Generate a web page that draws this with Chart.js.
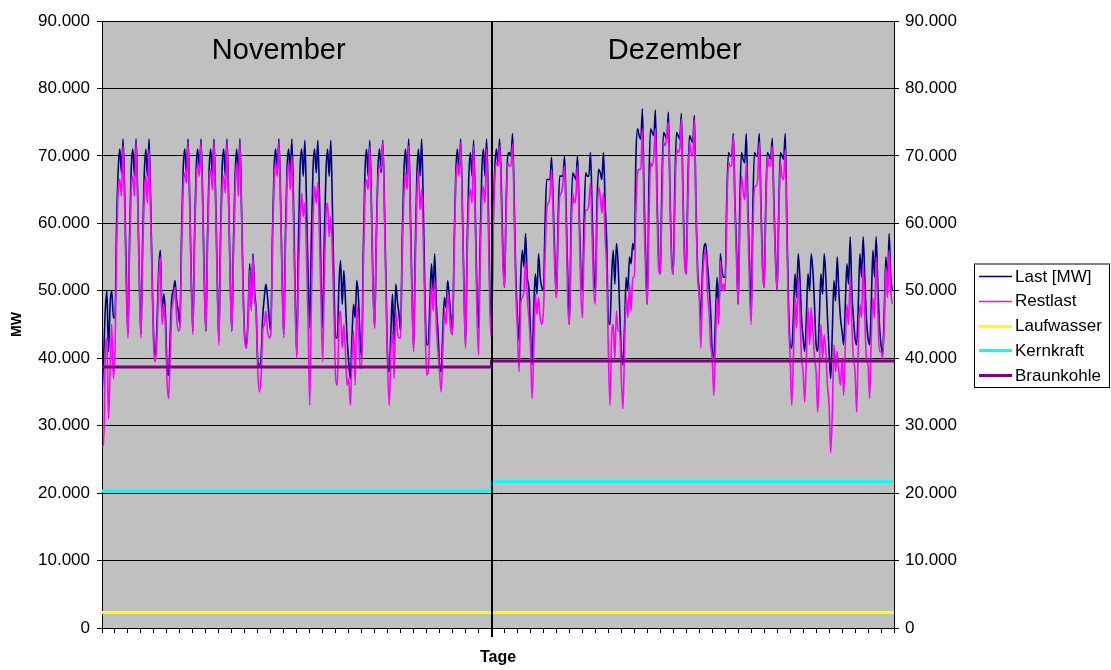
<!DOCTYPE html>
<html>
<head>
<meta charset="utf-8">
<script src="https://cdn.jsdelivr.net/npm/chart.js@4.4.1/dist/chart.umd.min.js"></script>
<style>
  html, body { margin: 0; padding: 0; background: #ffffff; }
  #wrap { width: 1111px; height: 670px; position: relative; }
</style>
</head>
<body>
<div id="wrap"><canvas id="c" width="1111" height="670"></canvas></div>
<script>
// Months shown and their number of days
const MONTHS = ['November', 'Dezember'];
const DAYS_PER_MONTH = [30, 31];
// Hours of the day at which each daily profile is sampled
const SAMPLE_HOURS = [0, 3, 6, 9, 12, 15, 18, 21];
// Y axis ticks (MW)
const Y_MIN = 0, Y_MAX = 90000, Y_STEP = 10000;
// Profile values are given in 1.000 MW
const UNIT = 1000;

// Last [MW], one row per day
const lastNov = [
  [34.5, 40, 47, 50, 41, 48, 50, 46],
  [46, 60, 68, 71, 67.5, 72.5, 64, 52],
  [43.5, 58, 68, 71, 67, 72.5, 64, 52],
  [43.5, 57, 67, 71, 67, 72.5, 63, 51],
  [42, 40.5, 46, 53.5, 56, 46, 49.5, 47],
  [39, 37.5, 43, 49, 50, 51.5, 48.5, 47],
  [45, 58, 68, 71, 67.5, 72.5, 64, 52],
  [44, 58, 68, 71, 67.5, 72.5, 64, 52],
  [44, 58, 68, 71, 67, 72.5, 64, 52],
  [42.5, 58, 68, 71, 67, 72.5, 64, 52],
  [44, 57, 67, 71, 67, 72.5, 62, 50],
  [43, 42, 46, 54, 47.5, 55.5, 50, 47],
  [39.5, 39, 40, 46, 49, 51, 49, 46],
  [44, 58, 68, 71, 67.5, 72.5, 64, 52],
  [43.5, 58, 68, 71, 67.5, 72.5, 63, 50],
  [40.5, 57, 68, 71, 67, 72.3, 63, 52],
  [44.5, 58, 68, 71, 67.5, 72.3, 64, 52],
  [44.5, 58, 67.5, 71, 67, 72.3, 62, 50],
  [43, 43, 51, 54.5, 48, 53, 48.5, 43],
  [39.5, 37, 43, 48, 46, 51.5, 49, 43],
  [40, 56, 67.5, 71, 67, 72.3, 63, 51],
  [44.5, 58, 68, 71, 67.5, 72.3, 63, 51],
  [40, 38, 44, 49.5, 42, 51, 48.5, 46.5],
  [44, 58, 67.5, 71, 67, 72.5, 62, 50],
  [41.5, 56, 67, 71, 67, 72.5, 62, 49],
  [42, 42, 48, 54, 50, 55.5, 48, 44],
  [39, 38, 44, 49, 47.5, 51.5, 49, 46],
  [44, 57, 67.5, 71, 67.5, 72.5, 63, 51],
  [42, 57, 67, 70.5, 67, 72.3, 62, 50],
  [44.5, 57, 67.5, 71, 67, 72.5, 63, 50]
];
const lastDec = [
  [44, 60, 68, 71, 69, 72.5, 66, 56],
  [50.5, 63, 70, 70.5, 70, 73.3, 63, 52],
  [46, 42.5, 52, 56, 53.5, 58.5, 52, 50.5],
  [44, 39, 47, 52.5, 49.5, 55.5, 52, 50.5],
  [50, 60, 66.5, 66.5, 66.5, 69.8, 63, 55],
  [49, 60, 67, 67, 67, 70, 62, 52],
  [45, 60, 67.5, 67, 66.5, 70, 62, 53],
  [50, 60, 67.5, 67, 67, 70.5, 62, 53],
  [50, 63, 68, 67.5, 66.5, 70.5, 63, 57],
  [45.5, 45, 52, 56, 51, 57, 54, 47],
  [41, 39, 45, 52, 50, 55, 54, 57],
  [56, 70, 74, 73, 72.5, 77, 64, 55],
  [48, 66, 74, 73.5, 73, 76.8, 64, 55],
  [52.5, 66, 73.5, 73, 72.5, 76.5, 64, 55],
  [52.5, 66, 73.5, 73, 72.5, 76.3, 64, 55],
  [52.5, 66, 73, 72.5, 72, 76, 62, 53],
  [50, 45.5, 53, 56.5, 57, 54, 51, 47],
  [41, 40, 46, 52, 46, 55.5, 53, 52],
  [52, 64, 70.5, 70, 70, 73.3, 63, 56],
  [48, 63, 70.5, 69.5, 69, 73.3, 62, 54],
  [46, 62, 70.5, 70, 70, 73.3, 63, 54],
  [50.5, 63, 70.5, 70, 69.5, 72.6, 63, 55],
  [50, 62, 70.5, 70, 69.5, 73.3, 60, 48],
  [42, 41.5, 46, 52.5, 49, 55.5, 52, 46],
  [43, 41, 46, 52.5, 50, 55.5, 53, 48],
  [42, 41, 46, 52.5, 49.5, 55.5, 52, 46],
  [41, 37, 44, 51.5, 48.5, 55, 50, 46],
  [44, 42, 48, 54, 51, 58, 50, 46],
  [43, 42, 48, 55.5, 52, 58, 52, 46],
  [43, 42, 48, 56, 52, 58, 51, 45],
  [42, 40.5, 47, 55, 50.5, 58.5, 52, 50]
];

// Restlast, one row per day
const restNov = [
  [27, 27, 40, 43, 31, 38, 45, 37],
  [41, 56, 65, 66.5, 64, 71.5, 62, 50],
  [43, 56, 65, 67, 64, 72, 63, 51],
  [43, 55, 64, 67, 63, 71, 61, 50],
  [41, 39.5, 44, 52, 55, 45, 48, 45],
  [37, 34, 40, 47, 48.5, 50.5, 46, 44],
  [44.5, 56, 65, 67.5, 66, 72, 63, 51],
  [43.5, 57, 66, 69, 67, 72, 63, 51],
  [44, 56, 66, 68, 65, 72, 63, 51],
  [42, 56, 65, 67, 64.5, 72, 63, 51],
  [44, 55, 65, 69, 64, 72, 61, 49],
  [42.5, 41.5, 45, 53, 47, 55, 49, 46.5],
  [38, 35, 37, 44, 45, 47, 44, 43],
  [43.5, 56, 66, 69, 67, 72, 63, 51],
  [43, 56, 66, 69, 65, 70, 60, 48],
  [40, 52, 60, 64.5, 61, 63, 55, 45],
  [33, 48, 60, 65.5, 63, 66, 58, 48],
  [39.5, 52, 61, 63, 58, 61, 55, 46],
  [37, 36, 45, 47, 41.5, 45, 41, 36],
  [37, 33, 40, 44, 36, 48, 44, 39],
  [38.5, 53, 64, 66.5, 65, 71.5, 62, 50],
  [44.5, 57, 66, 68.5, 68, 72, 62, 49],
  [39, 33, 41, 44, 37, 47, 44, 43],
  [43, 56, 64, 67.5, 65, 71.5, 60, 49],
  [41, 53, 64, 68, 62, 65, 57, 46],
  [37.5, 38, 44, 51, 47, 51.5, 45, 41],
  [38, 35, 41, 47, 45, 50, 47, 44],
  [43.5, 56, 66, 69, 67, 72, 62, 50],
  [41.5, 55, 63, 65, 63, 71.5, 60, 47],
  [40.5, 54, 63, 65.5, 63, 71, 60, 47]
];
const restDec = [
  [43, 58, 66.5, 69, 68.5, 71.5, 64, 54],
  [50.5, 62, 69, 68.5, 68.5, 71.8, 61, 50],
  [44, 38, 48, 49, 50, 54.5, 49, 46],
  [42, 34, 41, 49.5, 46.5, 49, 46, 45],
  [47, 55, 62, 63, 64, 68, 61, 53],
  [49, 58, 64, 64.5, 66, 68.5, 60, 48],
  [45, 57, 64.5, 63, 64, 68.5, 60, 50],
  [46, 56, 62, 62, 63, 66, 58, 50],
  [48, 60, 65.4, 64, 61.5, 64.5, 58, 53],
  [41, 33, 43, 45, 40, 47, 44, 44],
  [37, 32.5, 42, 49, 46, 51, 47, 52],
  [52, 62, 67.5, 68, 68, 74, 61, 52],
  [48, 60, 69, 68.5, 70, 74, 62, 53],
  [52.5, 63, 72, 71.5, 73, 75, 63, 54],
  [52.5, 63, 71, 70.5, 71, 75.5, 63, 54],
  [52.5, 64, 72, 70.5, 70, 75.3, 61, 52],
  [49, 41.5, 51, 55, 56, 50, 47, 42],
  [40, 34.5, 42, 49, 45, 54.5, 50, 51],
  [50, 62, 69, 68.5, 68.5, 73, 62, 54],
  [48, 59, 67, 65, 63.5, 69, 60, 50],
  [45, 58, 65.5, 65.5, 66.5, 72, 62, 53],
  [50.5, 62, 70, 68.5, 68.5, 71.5, 62, 54],
  [50, 60, 69, 67, 66.5, 71, 58, 46],
  [40, 33, 40, 49, 44.5, 52, 47, 40],
  [38, 33.5, 40, 47.5, 42, 47.5, 44, 40],
  [38, 32, 38, 45, 40, 43.5, 41, 36],
  [33, 26, 32, 42, 38, 41, 38, 36],
  [40, 34.5, 42, 48, 45, 52, 45, 40],
  [38, 32, 42, 48, 46, 54, 46, 40],
  [39, 34, 43, 49, 46, 55, 47, 41],
  [41, 40, 45, 53.5, 49, 56, 50, 48]
];

// Monthly constant feed-in (1.000 MW): November, Dezember
const laufwasser = [2.3, 2.3];
const kernkraft = [20.3, 21.7];
const braunkohle = [38.7, 39.6];

// Turn daily profiles into {x: day, y: MW} points
function hourlySeries(months) {
  const pts = [];
  let day = 0;
  months.forEach(rows => rows.forEach(vals => {
    vals.forEach((v, i) => pts.push({ x: day + SAMPLE_HOURS[i] / 24, y: v * UNIT }));
    day++;
  }));
  return pts;
}
// One level per month, drawn as steps
function monthlySeries(vals) {
  const pts = [];
  let start = 0;
  vals.forEach((v, i) => { pts.push({ x: start, y: v * UNIT }); start += DAYS_PER_MONTH[i]; });
  pts.push({ x: start, y: vals[vals.length - 1] * UNIT });
  return pts;
}
const TOTAL_DAYS = DAYS_PER_MONTH.reduce((a, b) => a + b, 0);

function fmtDe(v) {
  return String(v).replace(/\B(?=(\d{3})+(?!\d))/g, '.');
}

const FONT = 'Liberation Sans, Arial, Helvetica, sans-serif';

// Grey plot area, month separator, month names and the framed legend
const decor = {
  id: 'decor',
  beforeDraw(chart) {
    const { ctx, chartArea: a } = chart;
    ctx.save();
    ctx.fillStyle = '#c0c0c0';
    ctx.fillRect(a.left, a.top, a.right - a.left, a.bottom - a.top);
    ctx.restore();
  },
  afterDatasetsDraw(chart) {
    const { ctx, chartArea: a, scales } = chart;
    const xs = scales.x;
    ctx.save();
    // month separator
    let acc = 0;
    const starts = [];
    DAYS_PER_MONTH.forEach(d => { starts.push(acc); acc += d; });
    for (let i = 1; i < starts.length; i++) {
      const px = Math.round(xs.getPixelForValue(starts[i]));
      ctx.strokeStyle = '#000';
      ctx.lineWidth = 2;
      ctx.beginPath();
      ctx.moveTo(px, a.top);
      ctx.lineTo(px, a.bottom + 9);
      ctx.stroke();
    }
    // month names
    ctx.fillStyle = '#000';
    ctx.font = '29px ' + FONT;
    ctx.textAlign = 'center';
    ctx.textBaseline = 'middle';
    MONTHS.forEach((m, i) => {
      const x0 = xs.getPixelForValue(starts[i]);
      const x1 = xs.getPixelForValue(starts[i] + DAYS_PER_MONTH[i]);
      ctx.fillText(m, (x0 + x1) / 2 - 18, a.top + 30);
    });
    // legend
    const lx = 974, ly = 263.5, lw = 135, lh = 123.5;
    ctx.fillStyle = '#fff';
    ctx.fillRect(lx, ly, lw, lh);
    ctx.strokeStyle = '#000';
    ctx.lineWidth = 1;
    ctx.strokeRect(lx + 0.5, ly + 0.5, lw, lh);
    ctx.font = '17px ' + FONT;
    ctx.textAlign = 'left';
    chart.data.datasets.forEach((ds, i) => {
      const cy = 276 + i * 24.8;
      ctx.strokeStyle = ds.borderColor;
      ctx.lineWidth = ds.borderWidth >= 3 ? 3 : 1.5;
      ctx.beginPath();
      ctx.moveTo(979, Math.round(cy) + 0.5);
      ctx.lineTo(1012, Math.round(cy) + 0.5);
      ctx.stroke();
      ctx.fillStyle = '#000';
      ctx.fillText(ds.label, 1015, cy + 1);
    });
    ctx.restore();
  }
};

const tickFont = { family: FONT, size: 17 };

new Chart(document.getElementById('c').getContext('2d'), {
  type: 'line',
  data: {
    datasets: [
      { label: 'Last [MW]', data: hourlySeries([lastNov, lastDec]), borderColor: '#000080',
        borderWidth: 1.6, cubicInterpolationMode: 'monotone', order: 5 },
      { label: 'Restlast', data: hourlySeries([restNov, restDec]), borderColor: '#ff00ff',
        borderWidth: 1.6, cubicInterpolationMode: 'monotone', order: 4 },
      { label: 'Laufwasser', data: monthlySeries(laufwasser), borderColor: '#ffff00',
        borderWidth: 3, stepped: 'before', order: 3 },
      { label: 'Kernkraft', data: monthlySeries(kernkraft), borderColor: '#00ffff',
        borderWidth: 3, stepped: 'before', order: 2 },
      { label: 'Braunkohle', data: monthlySeries(braunkohle), borderColor: '#800080',
        borderWidth: 3, stepped: 'before', order: 1 }
    ]
  },
  options: {
    responsive: false,
    animation: false,
    devicePixelRatio: 1,
    parsing: false,
    layout: { padding: { top: 21, right: 0, bottom: 0, left: 0 } },
    plugins: { legend: { display: false }, tooltip: { enabled: false } },
    elements: { point: { radius: 0 }, line: { fill: false } },
    scales: {
      x: {
        type: 'linear', min: 0, max: TOTAL_DAYS,
        afterFit: s => { s.height = 42; },
        ticks: { stepSize: 1, autoSkip: false, maxRotation: 0, callback: () => '', font: tickFont },
        grid: { drawOnChartArea: false, tickLength: 5, color: '#000', lineWidth: 1 },
        border: { color: '#000', width: 1 },
        title: { display: true, text: 'Tage', color: '#000',
                 font: { family: FONT, size: 16, weight: 'bold' }, padding: { top: 0, bottom: 3 } }
      },
      y: {
        position: 'left', min: Y_MIN, max: Y_MAX,
        afterFit: s => { s.width = 102; },
        ticks: { stepSize: Y_STEP, callback: v => fmtDe(v), color: '#000', font: tickFont, padding: 7 },
        grid: { color: '#000', lineWidth: 1, tickLength: 5 },
        border: { color: '#000', width: 1 },
        title: { display: true, text: 'MW', color: '#000',
                 font: { family: FONT, size: 14, weight: 'bold' }, padding: { top: 9, bottom: 0 } }
      },
      y2: {
        position: 'right', min: Y_MIN, max: Y_MAX,
        afterFit: s => { s.width = 217; },
        ticks: { stepSize: Y_STEP, callback: v => fmtDe(v), color: '#000', font: tickFont, padding: 6 },
        grid: { drawOnChartArea: false, color: '#000', lineWidth: 1, tickLength: 5 },
        border: { color: '#000', width: 1 }
      }
    }
  },
  plugins: [decor]
});
</script>
</body>
</html>
